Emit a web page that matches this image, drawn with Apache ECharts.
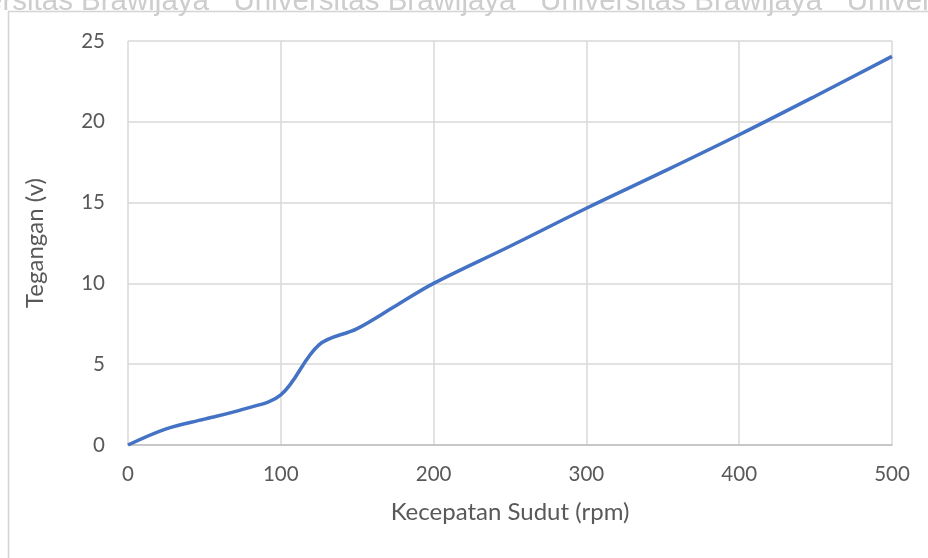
<!DOCTYPE html>
<html>
<head>
<meta charset="utf-8">
<script src="https://cdn.jsdelivr.net/npm/echarts@6/dist/echarts.min.js"></script>
<style>
html, body { margin: 0; padding: 0; background: #fff; }
#main { width: 928px; height: 558px; }
</style>
</head>
<body>
<div id="main"></div>
<script>
// speed (rpm) and voltage (v)
var speed = [0, 25, 50, 75, 100, 125, 150, 175, 200, 250, 300, 350, 400, 450, 500];
var voltage = [0, 1.0, 1.6, 2.2, 3.1, 6.2, 7.2, 8.6, 10.0, 12.3, 14.65, 16.9, 19.2, 21.6, 24.05];
var xTicks = [0, 100, 200, 300, 400, 500];
var yTicks = [0, 5, 10, 15, 20, 25];

var points = [];
for (var i = 0; i < speed.length; i++) {
    points.push([speed[i], voltage[i]]);
}

var font = 'Lato';
var chart = echarts.init(document.getElementById('main'));

var option = {
    backgroundColor: '#fff',
    animation: false,
    graphic: [
        {
            type: 'text',
            x: -14,
            y: 2,
            silent: true,
            style: {
                text: 'ersitas Brawijaya   Universitas Brawijaya   Universitas Brawijaya   Univer',
                font: '29.5px Liberation Sans',
                verticalAlign: 'middle',
                fill: '#cdcdcd'
            }
        },
        {
            type: 'rect',
            shape: { x: 8.5, y: 11.5, width: 930, height: 560 },
            silent: true,
            style: { fill: 'none', stroke: '#d4d4d4', lineWidth: 1.5 }
        }
    ],
    grid: { left: 128, right: 36, top: 41, bottom: 113 },
    xAxis: {
        type: 'value',
        min: xTicks[0],
        max: xTicks[xTicks.length - 1],
        interval: 100,
        name: 'Kecepatan Sudut (rpm)',
        nameLocation: 'middle',
        nameGap: 55,
        nameTextStyle: { color: '#595959', fontSize: 24, fontFamily: font },
        axisLine: { lineStyle: { color: '#bfbfbf', width: 1.5 } },
        axisTick: { show: false },
        axisLabel: { color: '#595959', fontSize: 20.5, fontFamily: font, margin: 19 },
        splitLine: { lineStyle: { color: '#d9d9d9', width: 1.5 } }
    },
    yAxis: {
        type: 'value',
        min: yTicks[0],
        max: yTicks[yTicks.length - 1],
        interval: 5,
        name: 'Tegangan (v)',
        nameLocation: 'middle',
        nameGap: 81,
        nameTextStyle: { color: '#595959', fontSize: 24, fontFamily: font },
        axisLine: { show: false },
        axisTick: { show: false },
        axisLabel: { color: '#595959', fontSize: 20.5, fontFamily: font, margin: 23 },
        splitLine: { lineStyle: { color: '#d9d9d9', width: 1.5 } }
    },
    series: [
        {
            type: 'line',
            data: points,
            smooth: 0.35,
            showSymbol: false,
            lineStyle: { color: '#4472C4', width: 3.5 }
        }
    ]
};

chart.setOption(option);
</script>
</body>
</html>
